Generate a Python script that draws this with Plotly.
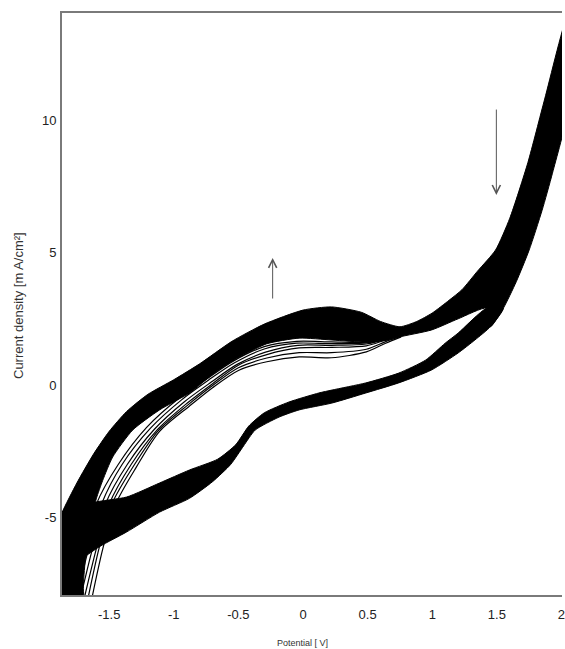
import plotly.graph_objects as go

# ---- cyclic voltammogram, repeated cycles (potential in V, current density in mA/cm2) ----

# forward (anodic) sweep band: outer and inner edges
anodic_top_v = [-1.95, -1.866, -1.75, -1.62, -1.50, -1.365, -1.20, -1.00, -0.80, -0.55, -0.30,
                0.00, 0.22, 0.45, 0.60, 0.75, 0.88, 1.00, 1.13, 1.23, 1.35, 1.49, 1.60, 1.74, 1.87, 2.05]
anodic_top_j = [-6.0, -4.83, -3.7, -2.6, -1.75, -1.0, -0.35, 0.2, 0.8, 1.65, 2.3,
                2.83, 2.95, 2.75, 2.4, 2.2, 2.4, 2.72, 3.2, 3.6, 4.3, 5.1, 6.3, 8.4, 10.8, 14.0]

anodic_bottom_v = [-1.95, -1.69, -1.70, -1.66, -1.60, -1.55, -1.473, -1.318, -1.11, -0.879, -0.70,
                   -0.547, -0.285, -0.03, 0.224, 0.486, 0.663, 0.74, 0.995, 1.20, 1.42]
anodic_bottom_j = [-9.5, -9.5, -7.6, -5.5, -4.3, -3.6, -2.72, -1.70, -0.94, -0.30, 0.40,
                   0.90, 1.55, 1.77, 1.70, 1.62, 1.70, 1.81, 2.08, 2.5, 2.9]

# outer edge of the high-potential region where both sweeps overlap
outer_right_v = [1.45, 1.55, 1.65, 1.75, 1.85, 1.93, 2.05]
outer_right_j = [2.2, 2.9, 3.9, 5.1, 6.6, 8.0, 10.4]

# reverse (cathodic) sweep band
cathodic_top_v = [-1.92, -1.827, -1.627, -1.365, -1.11, -0.879, -0.66, -0.52, -0.42, -0.30,
                  -0.108, 0.123, 0.224, 0.486, 0.74, 0.948, 1.10, 1.20, 1.42]
cathodic_top_j = [-5.2, -4.98, -4.45, -4.23, -3.70, -3.21, -2.80, -2.25, -1.55, -1.05,
                  -0.64, -0.30, -0.19, 0.08, 0.45, 0.94, 1.58, 1.96, 2.9]

cathodic_bottom_v = [-1.92, -1.78, -1.573, -1.365, -1.11, -0.879, -0.70, -0.56, -0.46, -0.37,
                     -0.185, -0.03, 0.224, 0.486, 0.74, 0.995, 1.20, 1.33]
cathodic_bottom_j = [-7.4, -6.8, -6.1, -5.55, -4.80, -4.28, -3.65, -3.00, -2.30, -1.70,
                     -1.21, -0.94, -0.68, -0.30, 0.08, 0.57, 1.21, 1.70]

# early cycles that run below the main anodic band
early_cycles = [
    ([-1.64, -1.55, -1.45, -1.29, -1.11, -0.88, -0.70, -0.50, -0.28, -0.03, 0.22, 0.49, 0.64, 0.76],
     [-8.2, -6.2, -4.5, -3.1, -1.75, -0.80, -0.10, 0.55, 0.88, 1.06, 1.03, 1.25, 1.58, 1.82]),
    ([-1.67, -1.58, -1.48, -1.31, -1.12, -0.89, -0.70, -0.50, -0.28, -0.03, 0.22, 0.49, 0.64, 0.76],
     [-8.2, -6.2, -4.5, -3.05, -1.72, -0.75, -0.02, 0.65, 1.02, 1.22, 1.22, 1.35, 1.64, 1.84]),
    ([-1.70, -1.60, -1.50, -1.33, -1.13, -0.90, -0.70, -0.50, -0.28, -0.03, 0.22, 0.49, 0.64, 0.76],
     [-8.2, -6.2, -4.5, -3.0, -1.70, -0.70, 0.05, 0.75, 1.15, 1.40, 1.42, 1.48, 1.70, 1.85]),
    ([-1.73, -1.63, -1.53, -1.36, -1.15, -0.92, -0.71, -0.51, -0.29, -0.04, 0.22, 0.49, 0.66],
     [-8.2, -6.2, -4.5, -3.0, -1.67, -0.64, 0.11, 0.78, 1.24, 1.50, 1.50, 1.55, 1.75]),
    ([-1.76, -1.66, -1.56, -1.40, -1.18, -0.94, -0.73, -0.53, -0.30, -0.05, 0.22, 0.49, 0.66],
     [-8.2, -6.2, -4.5, -3.0, -1.63, -0.56, 0.19, 0.84, 1.36, 1.58, 1.56, 1.59, 1.77]),
    ([-1.80, -1.70, -1.60, -1.43, -1.21, -0.96, -0.74, -0.54, -0.30, -0.05, 0.22, 0.49, 0.66],
     [-8.2, -6.2, -4.5, -3.0, -1.60, -0.50, 0.25, 0.90, 1.45, 1.65, 1.63, 1.62, 1.78]),
]

x_ticks = [-1.5, -1, -0.5, 0, 0.5, 1, 1.5, 2]
x_tick_text = ["-1.5", "-1", "-0.5", "0", "0.5", "1", "1.5", "2"]
y_ticks = [-5, 0, 5, 10]
y_tick_text = ["-5", "0", "5", "10"]

x_range = [-1.865, 2.004]
y_range = [-7.93, 14.05]

FONT = "Liberation Sans Narrow, Liberation Sans, Arial, sans-serif"
band_line = dict(color="black", width=1, shape="spline", smoothing=0.6)

fig = go.Figure()

# anodic band: outer edge left->right, then back along the overlap edge and inner edge
poly_v = anodic_top_v + outer_right_v[::-1] + anodic_bottom_v[::-1]
poly_j = anodic_top_j + outer_right_j[::-1] + anodic_bottom_j[::-1]
fig.add_trace(go.Scatter(x=poly_v, y=poly_j, mode="lines", fill="toself",
                         fillcolor="black", line=band_line,
                         hoverinfo="skip", showlegend=False))

# cathodic band: inner edge left->right, down the overlap edge, outer edge back
poly_v = cathodic_top_v + outer_right_v[:2][::-1] + cathodic_bottom_v[::-1]
poly_j = cathodic_top_j + outer_right_j[:2][::-1] + cathodic_bottom_j[::-1]
fig.add_trace(go.Scatter(x=poly_v, y=poly_j, mode="lines", fill="toself",
                         fillcolor="black", line=band_line,
                         hoverinfo="skip", showlegend=False))

for v, j in early_cycles:
    fig.add_trace(go.Scatter(x=v, y=j, mode="lines",
                             line=dict(color="black", width=1.2, shape="spline", smoothing=0.8),
                             hoverinfo="skip", showlegend=False))

axis_common = dict(showgrid=False, zeroline=False, showline=True, linecolor="#7a7a7a",
                   linewidth=2, ticks="", tickfont=dict(family=FONT, size=13, color="#222"))

fig.update_xaxes(range=x_range, tickmode="array", tickvals=x_ticks, ticktext=x_tick_text,
                 mirror=True, ticklabelstandoff=6, ticklabeloverflow="allow", **axis_common)
fig.update_yaxes(range=y_range, tickmode="array", tickvals=y_ticks, ticktext=y_tick_text,
                 ticklabelstandoff=1, **axis_common)

fig.add_annotation(text="Current density [m A/cm²]", xref="paper", yref="paper",
                   x=-0.0875, y=0.497, xanchor="center", yanchor="middle", textangle=-90,
                   showarrow=False, font=dict(family=FONT, size=13, color="#333"))
fig.add_annotation(text="Potential [ V]", xref="paper", yref="paper",
                   x=0.481, y=-0.0825, xanchor="center", yanchor="middle", showarrow=False,
                   font=dict(family=FONT, size=9, color="#333"))

# sweep direction arrows
fig.add_annotation(x=-0.235, y=4.80, ax=-0.235, ay=3.21, xref="x", yref="y", axref="x", ayref="y",
                   showarrow=True, arrowhead=5, arrowsize=1.6, arrowwidth=1, arrowcolor="#555", text="")
fig.add_annotation(x=1.496, y=7.18, ax=1.496, ay=10.46, xref="x", yref="y", axref="x", ayref="y",
                   showarrow=True, arrowhead=5, arrowsize=1.6, arrowwidth=1, arrowcolor="#555", text="")

fig.update_layout(width=565, height=649, margin=dict(l=62, r=0, t=13, b=54),
                  plot_bgcolor="white", paper_bgcolor="white")

fig.write_html("out.html")
